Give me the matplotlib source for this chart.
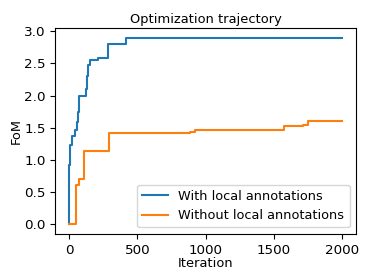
import matplotlib
matplotlib.use("Agg")
import matplotlib.pyplot as plt

# step trajectories (iteration, FoM)
it_with = [0, 3, 5, 24, 44, 56, 68, 73, 124, 133, 140, 152, 213, 284, 415, 2000]
fom_with = [0, 0.92, 1.23, 1.38, 1.47, 1.59, 1.75, 2.0, 2.10, 2.30, 2.48, 2.56, 2.58, 2.80, 2.90, 2.90]

it_without = [0, 49, 73, 109, 291, 888, 920, 1572, 1710, 1749, 2000]
fom_without = [0, 0.61, 0.70, 1.14, 1.42, 1.44, 1.47, 1.53, 1.54, 1.61, 1.61]

plt.rcParams['font.size'] = 9.4

fig, ax = plt.subplots(figsize=(3.74, 2.8), dpi=100)
fig.subplots_adjust(left=0.148, right=0.952, top=0.899, bottom=0.165)

ax.step(it_with, fom_with, where='post', lw=1.5, label='With local annotations')
ax.step(it_without, fom_without, where='post', lw=1.5, label='Without local annotations')

ax.set_xticks([0, 500, 1000, 1500, 2000])
ax.set_yticks([0.0, 0.5, 1.0, 1.5, 2.0, 2.5, 3.0])
ax.tick_params(labelsize=9.7)
ax.set_xlabel('Iteration', labelpad=0)
ax.set_ylabel('FoM', labelpad=1)
ax.set_title('Optimization trajectory', fontsize=9.4, pad=4)
ax.legend(loc='lower right', fontsize=9.3)

fig.savefig('out.png')
